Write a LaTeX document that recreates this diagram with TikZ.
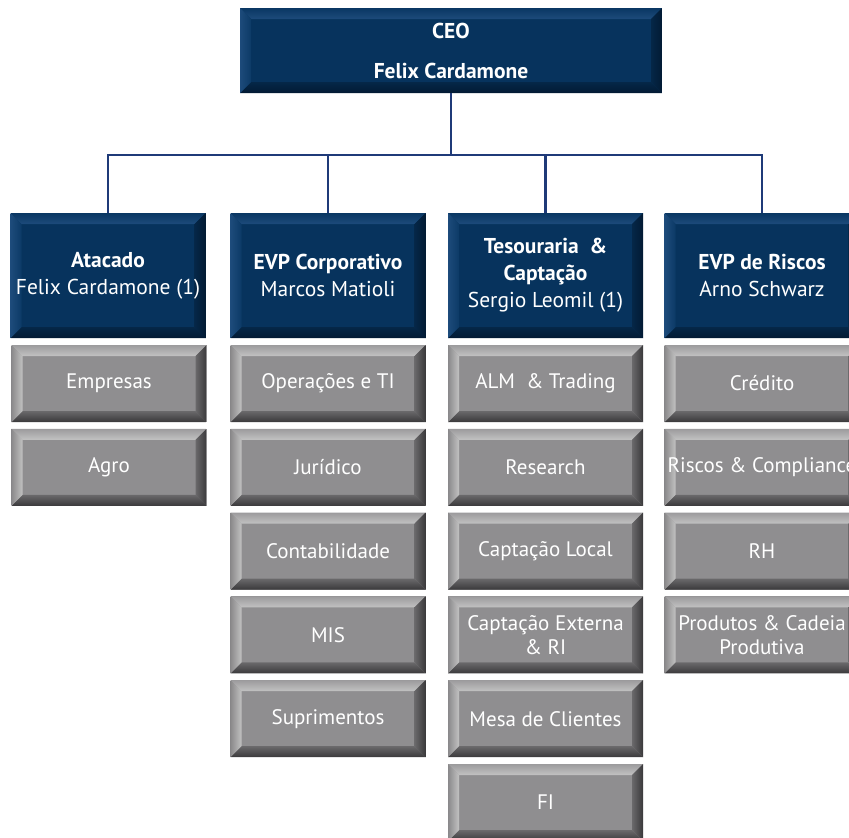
\documentclass[tikz,border=0pt]{standalone}
\usepackage{fontspec}
\setmainfont{PT Sans}
\begin{document}
\begin{tikzpicture}[x=1pt,y=-1pt,
  bv/.store in=\bvw, bv=11pt,
  bevel/.style={path picture={
    \path (path picture bounding box.north west) coordinate (@nw)
          (path picture bounding box.north east) coordinate (@ne)
          (path picture bounding box.south west) coordinate (@sw)
          (path picture bounding box.south east) coordinate (@se);
    \shade[#1top] (@nw) -- (@ne) -- ([shift={(-\bvw,-\bvw)}]@ne) -- ([shift={(\bvw,-\bvw)}]@nw) -- cycle;
    \shade[#1bot] (@sw) -- (@se) -- ([shift={(-\bvw,\bvw)}]@se) -- ([shift={(\bvw,\bvw)}]@sw) -- cycle;
    \shade[#1left] (@nw) -- ([shift={(\bvw,-\bvw)}]@nw) -- ([shift={(\bvw,\bvw)}]@sw) -- (@sw) -- cycle;
    \shade[#1right] (@ne) -- ([shift={(-\bvw,-\bvw)}]@ne) -- ([shift={(-\bvw,\bvw)}]@se) -- (@se) -- cycle;
  }},
  ntop/.style={top color=navyA, bottom color=navyB},
  nbot/.style={top color=navyD, bottom color=navyE},
  nleft/.style={left color=navyB, right color=navyC},
  nright/.style={left color=navyD, right color=navyE},
  gtop/.style={top color=grA, bottom color=grB},
  gbot/.style={top color=grD, bottom color=grE},
  gleft/.style={left color=grC, right color=grB},
  gright/.style={left color=grD, right color=grE},
  navybox/.style={rectangle, inner sep=0pt, outer sep=0pt, fill=navyF, bevel=n,
    minimum width=195pt, minimum height=125pt, text=white, align=center,
    font=\fontsize{21.5}{27}\selectfont},
  ceobox/.style={navybox, minimum width=422pt, minimum height=85pt},
  graybox/.style={rectangle, inner sep=0pt, outer sep=0pt, fill=grF, bevel=g,
    minimum width=195pt, minimum height=77pt, text=white, align=center,
    font=\fontsize{21}{24}\selectfont},
  conn/.style={draw=connc, line width=2.6pt}
]
\definecolor{navyF}{HTML}{07335D}
\definecolor{navyA}{HTML}{0A3763}
\definecolor{navyB}{HTML}{1D4B7B}
\definecolor{navyC}{HTML}{0C3A66}
\definecolor{navyD}{HTML}{052748}
\definecolor{navyE}{HTML}{021A33}
\definecolor{grF}{HTML}{8F8E90}
\definecolor{grA}{HTML}{9C9B9D}
\definecolor{grB}{HTML}{C2C2C2}
\definecolor{grC}{HTML}{8A898B}
\definecolor{grD}{HTML}{6A696B}
\definecolor{grE}{HTML}{3A393B}
\definecolor{connc}{HTML}{1F3A78}
\useasboundingbox (0,0) rectangle (849,838);
\clip (0,0) rectangle (849,838);
\coordinate (bus) at (0,155);
% nodes
\node[ceobox] (ceo) at (451,50.5) {\textbf{CEO}\\[13pt]\textbf{Felix Cardamone}};
\node[navybox] (a) at (108,275.5) {\textbf{Atacado}\\Felix Cardamone (1)};
\node[navybox] (b) at (328,275.5) {\textbf{EVP Corporativo}\\Marcos Matioli};
\node[navybox] (c) at (545.5,275.5) {\textbf{Tesouraria \ \&}\\\textbf{Captação}\\Sergio Leomil (1)};
\node[navybox] (d) at (762,275.5) {\textbf{EVP de Riscos}\\Arno Schwarz};
% connectors
\draw[conn] (ceo.south) -- (ceo.south |- bus);
\draw[conn] (a.north) -- (a.north |- bus) -| (d.north);
\draw[conn] (b.north) -- (b.north |- bus);
\draw[conn] (c.north) -- (c.north |- bus);
% gray boxes
\node[graybox] (a1) at (109,383.5) {Empresas};
\node[graybox] (a2) at (109,467.3) {Agro};
\node[graybox] (b1) at (328,383.5) {Operações e TI};
\node[graybox] (b2) at (328,467.3) {Jurídico};
\node[graybox] (b3) at (328,551.1) {Contabilidade};
\node[graybox] (b4) at (328,634.9) {MIS};
\node[graybox] (b5) at (328,718.7) {Suprimentos};
\node[graybox] (c1) at (545.5,383.5) {ALM \ \& Trading};
\node[graybox] (c2) at (545.5,467.3) {Research};
\node[graybox] (c3) at (545.5,551.1) {Captação Local};
\node[graybox] (c4) at (545.5,634.9) {Captação Externa\\\& RI};
\node[graybox] (c5) at (545.5,718.7) {Mesa de Clientes};
\node[graybox] (c6) at (545.5,802.5) {FI};
\node[graybox] (d1) at (762,383.5) {Crédito};
\node[graybox] (d2) at (762,467.3) {Riscos \& Compliance};
\node[graybox] (d3) at (762,551.1) {RH};
\node[graybox] (d4) at (762,634.9) {Produtos \& Cadeia\\Produtiva};
\end{tikzpicture}
\end{document}
